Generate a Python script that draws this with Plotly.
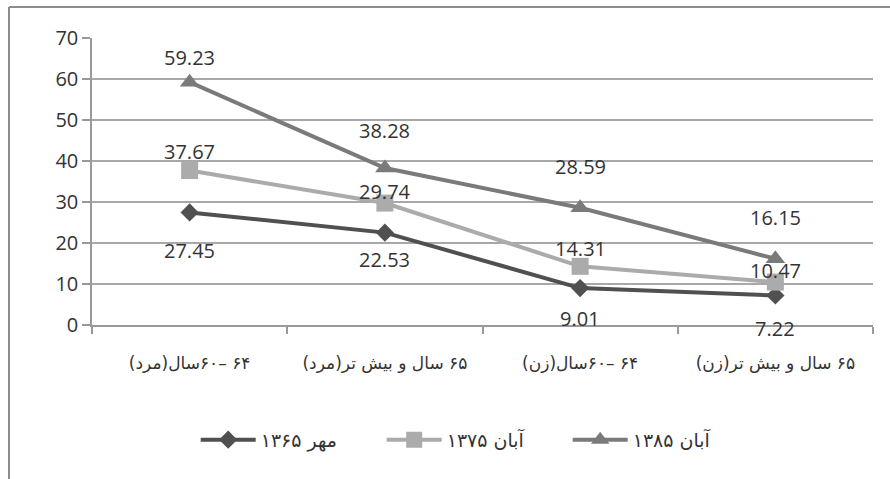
import plotly.graph_objects as go

RLE = "\u202b"
PDF = "\u202c"

def rtl(s):
    return RLE + s + PDF

# category labels (natural Persian reading order, shown right-to-left)
cat_labels = [
    "۶۴ –۶۰سال(مرد)",
    "۶۵ سال و بیش تر(مرد)",
    "۶۴ –۶۰سال(زن)",
    "۶۵ سال و بیش تر(زن)",
]
categories = [rtl(c) for c in cat_labels]

series_names = ["مهر ۱۳۶۵", "آبان ۱۳۷۵", "آبان ۱۳۸۵"]
mehr_1365 = [27.45, 22.53, 9.01, 7.22]
aban_1375 = [37.67, 29.74, 14.31, 10.47]
aban_1385 = [59.23, 38.28, 28.59, 16.15]

y_ticks = [0, 10, 20, 30, 40, 50, 60, 70]

# label vertical offsets in pixels (style)
label_dy = [
    [-38, -27, -30, -33],
    [19, 12, 18, 12],
    [25, 38, 41, 41],
]

colors = ["#505050", "#ababab", "#7a7a7a"]
symbols = ["diamond", "square", "triangle-up"]
msizes = [14, 17, 17]
values = [mehr_1365, aban_1375, aban_1385]

NUM_FONT = "Open Sans, DejaVu Sans, sans-serif"
FA_FONT = "DejaVu Sans, sans-serif"

fig = go.Figure()
for name, vals, col, sym, ms in zip(series_names, values, colors, symbols, msizes):
    fig.add_trace(go.Scatter(
        x=categories, y=vals, name=rtl(name), mode="lines+markers",
        line=dict(color=col, width=4),
        marker=dict(symbol=sym, size=ms, color=col),
        hoverinfo="skip",
    ))

for vals, dys in zip(values, label_dy):
    for c, v, dy in zip(categories, vals, dys):
        fig.add_annotation(
            x=c, y=v, text=f"{v:.2f}", showarrow=False,
            yshift=dy, font=dict(family=NUM_FONT, size=20, color="#333333"),
        )

# outer frame (top and left edges visible)
fig.add_shape(type="line", xref="paper", yref="paper",
              x0=(9 - 92) / 781, x1=(890 - 92) / 781,
              y0=1 + (38 - 7) / 287, y1=1 + (38 - 7) / 287,
              line=dict(color="#8c8c8c", width=2))
fig.add_shape(type="line", xref="paper", yref="paper",
              x0=(9 - 92) / 781, x1=(9 - 92) / 781,
              y0=1 + (38 - 7) / 287, y1=(325 - 479) / 287,
              line=dict(color="#8c8c8c", width=2))

fig.update_layout(
    width=890, height=479,
    margin=dict(l=92, r=17, t=38, b=154),
    paper_bgcolor="white", plot_bgcolor="white",
    showlegend=True,
    legend=dict(
        orientation="h", x=0.49, xanchor="center", y=-0.40, yanchor="middle",
        font=dict(family=FA_FONT, size=19, color="#333333"),
        itemwidth=55, entrywidth=116, entrywidthmode="pixels",
        traceorder="normal",
    ),
    xaxis=dict(
        type="category", tickson="boundaries", ticks="outside", ticklen=7,
        tickcolor="#999999", tickwidth=1.5,
        showline=True, linecolor="#999999", linewidth=1.5,
        showgrid=False, range=[-0.5, 3.5],
        tickfont=dict(family=FA_FONT, size=17, color="#333333"),
        ticklabelstandoff=22,
    ),
    yaxis=dict(
        range=[0, 70], tickvals=y_ticks, ticks="outside", ticklen=8,
        tickcolor="#999999", tickwidth=1.5,
        showline=True, linecolor="#999999", linewidth=1.5,
        showgrid=True, gridcolor="#a8a8a8", gridwidth=1.5,
        zeroline=False,
        tickfont=dict(family=NUM_FONT, size=20, color="#333333"),
    ),
)

fig.write_html("out.html")
